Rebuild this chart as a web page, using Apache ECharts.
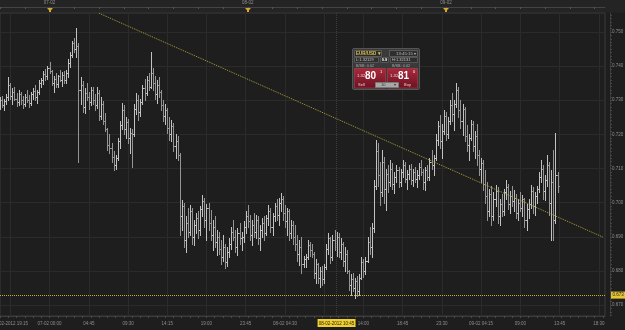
<!DOCTYPE html>
<html><head><meta charset="utf-8">
<script src="https://cdn.jsdelivr.net/npm/echarts@6/dist/echarts.min.js"></script>
<style>html,body{margin:0;padding:0;background:#1e1e1e;overflow:hidden}#c{width:625px;height:330px}</style>
</head><body><div id="c"></div>
<script>
// 15-minute OHLC bars, 06-02-2012 18:00 onward
const opens=[
.7290,.7300,.7285,.7298,.7310,.7345,.7312,.7325,.7305,.7295,
.7318,.7300,.7290,.7310,.7302,.7292,.7318,.7328,.7310,.7325,
.7350,.7360,.7378,.7370,.7395,.7385,.7352,.7362,.7348,.7370,
.7360,.7375,.7358,.7380,.7410,.7432,.7468,.7450,.7460,.7330,
.7345,.7280,.7320,.7310,.7295,.7330,.7300,.7285,.7320,.7255,
.7290,.7240,.7215,.7170,.7160,.7135,.7110,.7130,.7180,.7228,
.7270,.7215,.7235,.7190,.7205,.7200,.7275,.7300,.7265,.7295,
.7335,.7320,.7360,.7340,.7380,.7350,.7318,.7345,.7325,.7285,
.7255,.7270,.7220,.7200,.7225,.7165,.7180,.7140,.6960,.6990,
.6890,.6940,.6915,.6975,.6900,.6935,.6955,.6920,.6980,.7005,
.6950,.6985,.6940,.6905,.6930,.6885,.6900,.6865,.6840,.6870,
.6825,.6855,.6880,.6915,.6900,.6870,.6910,.6895,.6900,.6930,
.6960,.6945,.6905,.6935,.6915,.6950,.6895,.6920,.6940,.6910,
.6955,.6975,.6930,.6960,.6990,.6965,.7000,.7012,.6970,.6945,
.6975,.6910,.6935,.6900,.6880,.6850,.6870,.6820,.6835,.6840,
.6875,.6860,.6850,.6795,.6820,.6780,.6800,.6775,.6810,.6865,
.6895,.6840,.6890,.6870,.6900,.6855,.6880,.6830,.6850,.6800,
.6760,.6775,.6750,.6770,.6740,.6780,.6825,.6800,.6830,.6885,
.6870,.6925,.7050,.7150,.7080,.7030,.7120,.7040,.7085,.7060,
.7100,.7055,.7075,.7095,.7060,.7090,.7110,.7070,.7085,.7100,
.7065,.7090,.7070,.7080,.7105,.7090,.7060,.7095,.7075,.7120,
.7110,.7130,.7185,.7225,.7180,.7210,.7255,.7200,.7240,.7285,
.7260,.7290,.7330,.7270,.7240,.7275,.7195,.7170,.7190,.7230,
.7165,.7195,.7140,.7100,.7115,.7055,.7020,.6975,.7025,.6960,
.7010,.7035,.6960,.6995,.6975,.7030,.7045,.6995,.7020,.7005,
.7015,.6970,.7000,.6985,.7010,.6950,.6980,.6995,.7035,.6990,
.7020,.7040,.7075,.7100,.7035,.7065,.7110,.7000,.7060,.6950,.7080];
const highs=[
.7310,.7312,.7305,.7318,.7368,.7352,.7335,.7340,.7322,.7330,
.7325,.7312,.7318,.7330,.7315,.7325,.7336,.7345,.7330,.7359,
.7365,.7385,.7392,.7400,.7412,.7390,.7372,.7380,.7375,.7389,
.7382,.7386,.7388,.7420,.7441,.7475,.7482,.7512,.7468,.7368,
.7355,.7335,.7350,.7325,.7340,.7338,.7318,.7339,.7330,.7309,
.7298,.7262,.7218,.7200,.7175,.7150,.7140,.7190,.7240,.7292,
.7285,.7251,.7245,.7220,.7215,.7290,.7321,.7315,.7305,.7345,
.7362,.7370,.7380,.7441,.7394,.7372,.7360,.7368,.7330,.7300,
.7290,.7278,.7250,.7242,.7232,.7200,.7195,.7145,.7008,.7000,
.6960,.6985,.6993,.6985,.6950,.6970,.6975,.6990,.7022,.7015,
.6995,.7000,.6978,.6950,.6960,.6920,.6915,.6890,.6905,.6880,
.6870,.6895,.6930,.6949,.6920,.6925,.6940,.6915,.6945,.6975,
.6993,.6965,.6950,.6970,.6964,.6960,.6935,.6955,.6960,.6965,
.6993,.6985,.6970,.7000,.7010,.7015,.7028,.7020,.6993,.6985,
.6980,.6950,.6945,.6934,.6905,.6890,.6899,.6845,.6850,.6890,
.6885,.6880,.6855,.6835,.6823,.6810,.6815,.6820,.6880,.6911,
.6900,.6905,.6920,.6915,.6910,.6895,.6885,.6870,.6860,.6803,
.6790,.6794,.6780,.6785,.6790,.6841,.6835,.6840,.6900,.6929,
.6940,.7066,.7183,.7175,.7120,.7154,.7135,.7100,.7110,.7125,
.7115,.7090,.7110,.7105,.7100,.7125,.7118,.7095,.7110,.7112,
.7100,.7105,.7095,.7115,.7125,.7100,.7105,.7110,.7130,.7154,
.7140,.7200,.7240,.7257,.7230,.7271,.7265,.7250,.7300,.7320,
.7300,.7350,.7340,.7301,.7290,.7280,.7227,.7200,.7242,.7240,
.7210,.7230,.7154,.7130,.7125,.7096,.7060,.7040,.7050,.7030,
.7052,.7045,.7010,.7025,.7040,.7066,.7055,.7035,.7050,.7037,
.7025,.7010,.7030,.7022,.7015,.6995,.7010,.7052,.7045,.7030,
.7050,.7090,.7125,.7110,.7080,.7140,.7120,.7096,.7154,.7204,.7090];
const lows=[
.7275,.7280,.7272,.7288,.7300,.7305,.7290,.7300,.7282,.7285,
.7290,.7278,.7282,.7295,.7280,.7285,.7305,.7300,.7292,.7318,
.7339,.7348,.7360,.7362,.7380,.7345,.7324,.7340,.7339,.7355,
.7342,.7350,.7352,.7368,.7398,.7428,.7440,.7427,.7119,.7290,
.7265,.7263,.7300,.7275,.7285,.7290,.7271,.7278,.7242,.7245,
.7230,.7210,.7155,.7145,.7120,.7096,.7100,.7125,.7160,.7215,
.7200,.7190,.7175,.7145,.7104,.7195,.7260,.7242,.7255,.7290,
.7301,.7315,.7330,.7335,.7330,.7305,.7292,.7310,.7270,.7240,
.7230,.7205,.7183,.7180,.7150,.7130,.7125,.6905,.6920,.6870,
.6855,.6900,.6905,.6880,.6876,.6910,.6895,.6905,.6960,.6930,
.6890,.6920,.6890,.6860,.6870,.6847,.6850,.6820,.6830,.6808,
.6815,.6840,.6865,.6890,.6855,.6847,.6880,.6860,.6885,.6910,
.6930,.6890,.6876,.6900,.6895,.6880,.6861,.6900,.6890,.6905,
.6935,.6915,.6905,.6945,.6950,.6934,.6975,.6950,.6930,.6905,
.6890,.6895,.6880,.6860,.6830,.6817,.6795,.6810,.6810,.6835,
.6845,.6841,.6780,.6764,.6765,.6753,.6760,.6765,.6805,.6850,
.6823,.6832,.6860,.6845,.6840,.6835,.6815,.6800,.6794,.6745,
.6729,.6740,.6721,.6725,.6730,.6775,.6782,.6790,.6825,.6850,
.6841,.6915,.7040,.7050,.6993,.7020,.7000,.6978,.7030,.7050,
.7040,.7028,.7060,.7045,.7050,.7075,.7060,.7040,.7070,.7055,
.7050,.7060,.7045,.7070,.7080,.7040,.7037,.7065,.7066,.7100,
.7080,.7125,.7170,.7160,.7130,.7200,.7183,.7190,.7230,.7240,
.7213,.7280,.7250,.7220,.7198,.7180,.7150,.7125,.7185,.7150,
.7130,.7110,.7080,.7060,.7037,.7000,.6950,.6960,.6934,.6950,
.6990,.6940,.6934,.6960,.6964,.7010,.6980,.6970,.6990,.6975,
.6955,.6949,.6975,.6960,.6930,.6920,.6955,.6985,.6970,.6964,
.7000,.7030,.7060,.7010,.7008,.7050,.6964,.6890,.6890,.6940,.7030];
const closes=[
.7300,.7285,.7298,.7310,.7345,.7312,.7325,.7305,.7295,.7318,
.7300,.7290,.7310,.7302,.7292,.7318,.7328,.7310,.7325,.7350,
.7360,.7378,.7370,.7395,.7385,.7352,.7362,.7348,.7370,.7360,
.7375,.7358,.7380,.7410,.7432,.7468,.7450,.7460,.7330,.7345,
.7280,.7320,.7310,.7295,.7330,.7300,.7285,.7320,.7255,.7290,
.7240,.7215,.7170,.7160,.7135,.7110,.7130,.7180,.7228,.7270,
.7215,.7235,.7190,.7205,.7200,.7275,.7300,.7265,.7295,.7335,
.7320,.7360,.7340,.7380,.7350,.7318,.7345,.7325,.7285,.7255,
.7270,.7220,.7200,.7225,.7165,.7180,.7140,.6960,.6990,.6890,
.6940,.6915,.6975,.6900,.6935,.6955,.6920,.6980,.7005,.6950,
.6985,.6940,.6905,.6930,.6885,.6900,.6865,.6840,.6870,.6825,
.6855,.6880,.6915,.6900,.6870,.6910,.6895,.6900,.6930,.6960,
.6945,.6905,.6935,.6915,.6950,.6895,.6920,.6940,.6910,.6955,
.6975,.6930,.6960,.6990,.6965,.7000,.7012,.6970,.6945,.6975,
.6910,.6935,.6900,.6880,.6850,.6870,.6820,.6835,.6840,.6875,
.6860,.6850,.6795,.6820,.6780,.6800,.6775,.6810,.6865,.6895,
.6840,.6890,.6870,.6900,.6855,.6880,.6830,.6850,.6800,.6760,
.6775,.6750,.6770,.6740,.6780,.6825,.6800,.6830,.6885,.6870,
.6925,.7050,.7150,.7080,.7030,.7120,.7040,.7085,.7060,.7100,
.7055,.7075,.7095,.7060,.7090,.7110,.7070,.7085,.7100,.7065,
.7090,.7070,.7080,.7105,.7090,.7060,.7095,.7075,.7120,.7110,
.7130,.7185,.7225,.7180,.7210,.7255,.7200,.7240,.7285,.7260,
.7290,.7330,.7270,.7240,.7275,.7195,.7170,.7190,.7230,.7165,
.7195,.7140,.7100,.7115,.7055,.7020,.6975,.7025,.6960,.7010,
.7035,.6960,.6995,.6975,.7030,.7045,.6995,.7020,.7005,.7015,
.6970,.7000,.6985,.7010,.6950,.6980,.6995,.7035,.6990,.7020,
.7040,.7075,.7100,.7035,.7065,.7110,.7000,.7060,.6950,.7080,.7050];

// time slots (15 min) from 06-02-2012 18:00 to 09-02-2012 19:15
const slotCount=294;
const pad=n=>String(n).padStart(2,'0');
const categories=[];
for(let i=0;i<slotCount;i++){const m=18*60+i*15;const d=6+Math.floor(m/1440);const mm=m%1440;
  categories.push(pad(d)+'-02-2012 '+pad(Math.floor(mm/60))+':'+pad(mm%60));}

const xTickIndex=[5,24,43,62,81,100,119,138,157,176,195,214,233,252,271,290];
const xTickText=['06-02-2012 19:15','07-02 00:00','04:45','09:30','14:15','19:00','23:45','08-02 04:30','09:15','14:00','18:45','23:30','09-02 04:15','09:00','13:45','18:30'];
const dayIndex=[24,120,216];
const dayText=['07-02','08-02','09-02'];
const yLabelValues=[0.670,0.680,0.690,0.700,0.710,0.720,0.730,0.740,0.750];
const yMin=0.66678, yMax=0.75557;
const levelValue=0.6729;           // yellow horizontal level
const trendStart=[48,0.7555], trendEnd=[292,0.6899];
const cursorIndex=163;

const yMinor=[];for(let k=667;k<=755;k++)yMinor.push(k/1000);
const tickMap={};xTickIndex.forEach((v,i)=>tickMap[v]=xTickText[i]);
const dayMap={};dayIndex.forEach((v,i)=>dayMap[v]=dayText[i]);
const bars=opens.map((o,i)=>[i,o,highs[i],lows[i],closes[i]]);
const lastClose=closes[closes.length-1];

const FONT='Liberation Sans';
const chart=echarts.init(document.getElementById('c'),null,{renderer:'canvas'});
function renderOHLC(params,api){
  const i=api.value(0);
  const o=api.coord([i,api.value(1)]),h=api.coord([i,api.value(2)]),l=api.coord([i,api.value(3)]),c=api.coord([i,api.value(4)]);
  const x=Math.round(o[0])+0.5;
  const col=api.value(4)>=api.value(1)?'#c2c2c2':'#949494';
  const st={stroke:col,lineWidth:1};
  const oy=Math.round(o[1])+0.5, cy=Math.round(c[1])+0.5;
  return {type:'group',children:[
    {type:'line',shape:{x1:x,y1:Math.round(h[1]),x2:x,y2:Math.round(l[1])+1},style:st},
    {type:'line',shape:{x1:x-1.5,y1:oy,x2:x,y2:oy},style:st},
    {type:'line',shape:{x1:x,y1:cy,x2:x+1.5,y2:cy},style:st}
  ]};
}
const option={
  backgroundColor:'#1e1e1e',
  animation:false,
  grid:{left:0,right:20,top:13,bottom:14,outerBoundsMode:'none',containLabel:false,show:true,borderColor:'#3a3a3a',borderWidth:1,backgroundColor:'#1e1e1e'},
  xAxis:[{
    type:'category',data:categories,boundaryGap:false,position:'bottom',
    axisLine:{show:true,lineStyle:{color:'#3c3c3c'}},
    axisTick:{show:true,interval:(i)=>i%4===0,length:2,lineStyle:{color:'#4a4a4a'}},
    axisLabel:{interval:(i)=>tickMap[i]!==undefined,formatter:(v,i)=>tickMap[i]||'',fontSize:4.5,fontFamily:FONT,color:'#8e8e8e',margin:5,hideOverlap:false},
    splitLine:{show:true,interval:(i)=>tickMap[i]!==undefined,lineStyle:{color:'#2b2b2b',width:1}}
  },{
    type:'category',data:categories,boundaryGap:false,position:'top',offset:6,
    axisLine:{show:true,lineStyle:{color:'#444'}},
    axisTick:{show:true,inside:true,interval:(i)=>i%12===0,length:2,lineStyle:{color:'#555'}},
    axisLabel:{interval:(i)=>dayMap[i]!==undefined,formatter:(v,i)=>dayMap[i]||'',fontSize:4.5,fontFamily:FONT,color:'#8e8e8e',margin:1.5},
    splitLine:{show:false}
  }],
  yAxis:{
    type:'value',position:'right',offset:5,min:yMin,max:yMax,scale:true,
    axisLine:{show:true,lineStyle:{color:'#3c3c3c'}},
    axisTick:{show:true,customValues:yMinor,length:2,lineStyle:{color:'#444'}},
    axisLabel:{customValues:yLabelValues,formatter:v=>v.toFixed(3),fontSize:4.5,fontFamily:FONT,color:'#8e8e8e',margin:2},
    splitLine:{show:false}
  },
  series:[{
    type:'line',data:[],z:1,silent:true,
    markLine:{silent:true,symbol:['none','none'],z:1,label:{show:false},
      data:yLabelValues.map(v=>({yAxis:v,lineStyle:{color:'#2b2b2b',type:'solid',width:1}}))}
  },{
    type:'custom',renderItem:renderOHLC,data:bars,encode:{x:0,y:[1,2,3,4]},z:3,silent:true
  },{
    type:'line',data:[],z:5,silent:true,
    markLine:{silent:true,symbol:['none','none'],z:5,precision:4,
      data:[
        {xAxis:cursorIndex,lineStyle:{color:'#3e3e3e',type:'dotted',width:1},label:{show:false}},
        [{coord:trendStart,lineStyle:{color:'#aaa23a',type:'dotted',width:1},label:{show:false}},{coord:trendEnd}],
        {yAxis:levelValue,lineStyle:{color:'#c2ae2e',type:'dotted',width:1},
          label:{show:true,position:'end',distance:6,formatter:()=>levelValue.toFixed(3),backgroundColor:'#e6c435',color:'#222',padding:[1.5,1.5,0.5,1.5],fontSize:4.5,fontFamily:FONT}},
        {yAxis:lastClose,lineStyle:{opacity:0,width:0},
          label:{show:true,position:'end',distance:6,formatter:()=>lastClose.toFixed(3),backgroundColor:'#2f86d6',color:'#eaf3ff',padding:[1.5,1.5,0.5,1.5],fontSize:4.5,fontFamily:FONT}}
      ]}
  }]
};
chart.setOption(option);

// overlay decorations placed from the axes
const px=i=>chart.convertToPixel({xAxisIndex:0},categories[i]);
const g=[];
g.push({type:'rect',shape:{x:0,y:0,width:625,height:12.5},style:{fill:'#242424'},z:-1,silent:true});
dayIndex.forEach(i=>{const x=Math.round(px(i));
  g.push({type:'polygon',shape:{points:[[x-2.5,8],[x+2.5,8],[x+2.5,9],[x+1,10],[x+1,12],[x-1,12],[x-1,10],[x-2.5,9]]},style:{fill:'#d6a92c'},z:50,silent:true});});
const cx=px(cursorIndex);
g.push({type:'rect',shape:{x:cx-19,y:319,width:38,height:8},style:{fill:'#f0cf2e'},z:60,silent:true});
g.push({type:'text',style:{text:categories[cursorIndex],x:cx,y:323.3,align:'center',verticalAlign:'middle',fill:'#222',font:'4.5px '+FONT},z:61,silent:true});
// order ticket widget
const Z=100;
const T=(text,x,y,fill,font,align)=>({type:'text',style:{text,x,y,fill,font,align:align||'left',verticalAlign:'middle'},z:Z+2,silent:true});
const R=(x,y,w,h,fill,stroke)=>({type:'rect',shape:{x,y,width:w,height:h},style:{fill,stroke:stroke||null,lineWidth:1},z:Z+1,silent:true});
g.push({type:'rect',shape:{x:352.5,y:48.5,width:67,height:41,r:1.5},style:{fill:'#3a3a3a',stroke:'#555'},z:Z,silent:true});
g.push(R(354.5,50.5,27,6,'#2a2a2a','#5a5a5a'));
g.push(T('EUR/USD \u25BE',356,53.6,'#e2c24a','bold 4.5px '+FONT));
g.push(R(389.5,50.5,28,6,'#2e2e2e','#5a5a5a'));
g.push(T('13:45:15 \u25BE',416,53.6,'#bdbdbd','4.3px '+FONT,'right'));
g.push(R(354.5,57.5,24,5,'#2e2e2e','#555'));
g.push(T('L:1.32129',356,60.2,'#c8c8c8','4px '+FONT));
g.push(R(380.5,57.5,8,5,'#2e2e2e','#555'));
g.push(T('0.9',384.5,60.2,'#ffffff','bold 4px '+FONT,'center'));
g.push(R(390.5,57.5,27,5,'#2e2e2e','#555'));
g.push(T('H:1.32131',392,60.2,'#c8c8c8','4px '+FONT));
g.push(T('B/SB: 0.02',356,65.5,'#a8a8a8','3.8px '+FONT));
g.push(T('B/SB: 0.02',392,65.5,'#a8a8a8','3.8px '+FONT));
const redGrad={type:'linear',x:0,y:0,x2:0,y2:1,colorStops:[{offset:0,color:'#a82a3c'},{offset:1,color:'#6c1221'}]};
g.push({type:'rect',shape:{x:354.5,y:68.5,width:31,height:19.5},style:{fill:redGrad,stroke:'#c04050',lineWidth:0.5},z:Z+1,silent:true});
g.push({type:'rect',shape:{x:387.5,y:68.5,width:30,height:19.5},style:{fill:redGrad,stroke:'#c04050',lineWidth:0.5},z:Z+1,silent:true});
g.push(T('1.32',357,75.5,'#f0d8dc','4.3px '+FONT));
g.push(T('80',365,76,'#ffffff','bold 10px '+FONT));
g.push(T('1',380,71.5,'#ffffff','4px '+FONT));
g.push(T('1.32',390,75.5,'#f0d8dc','4.3px '+FONT));
g.push(T('81',398,76,'#ffffff','bold 10px '+FONT));
g.push(T('0',413,71.5,'#ffffff','4px '+FONT));
g.push(T('Sell',358,84.8,'#e8d0d4','4px '+FONT));
g.push(R(375.5,82.5,23,5,'#a8a8a8','#777'));
g.push(T('10',381,85,'#333','4px '+FONT));
g.push(T('\u25BE',396,85,'#333','4px '+FONT,'right'));
g.push(T('Buy',404,84.8,'#e8d0d4','4px '+FONT));
chart.setOption({graphic:{elements:g}});
</script></body></html>
